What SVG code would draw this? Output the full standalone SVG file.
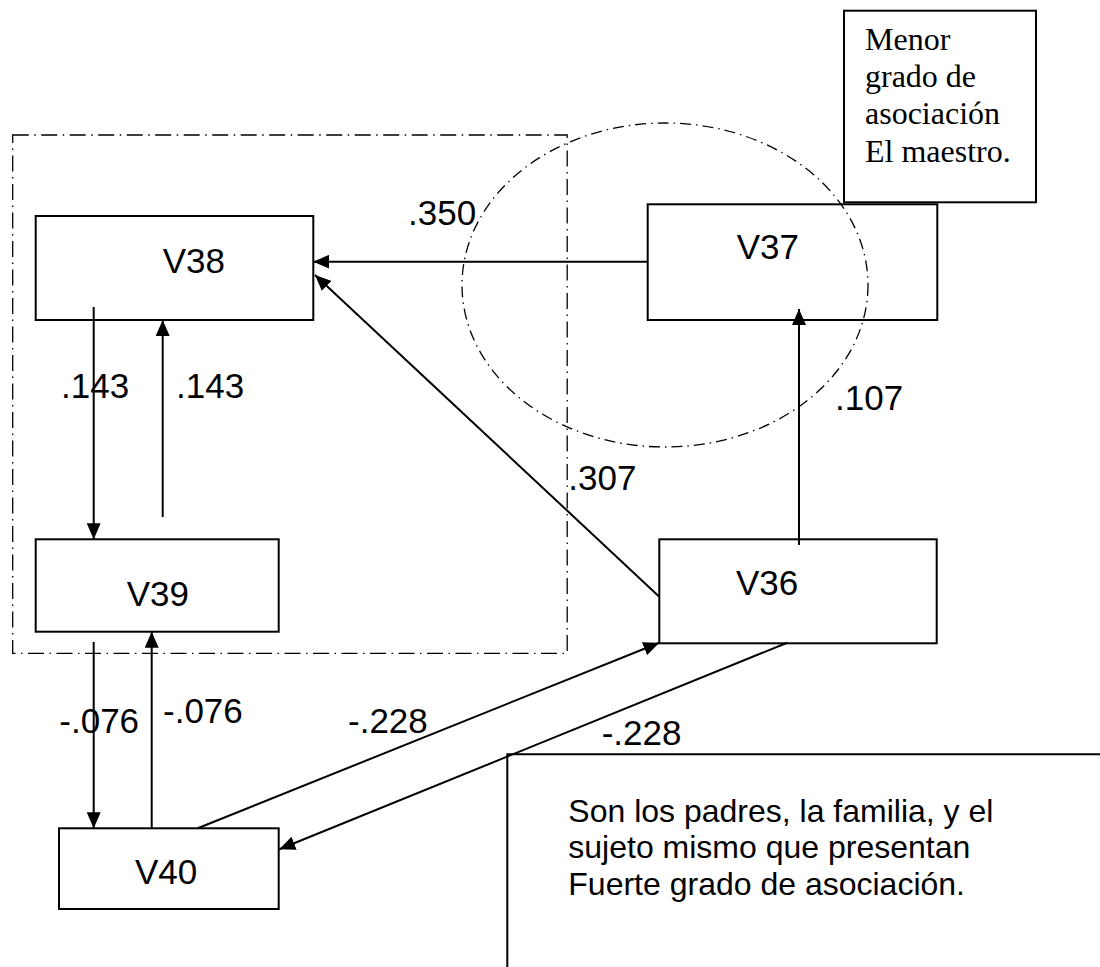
<svg xmlns="http://www.w3.org/2000/svg" width="1100" height="967" viewBox="0 0 1100 967">
<style>
.box{fill:none;stroke:#000;stroke-width:2}
.lbl{font-family:"Liberation Sans",Arial,sans-serif;font-size:35px;fill:#000}
.num{font-family:"Liberation Sans",Arial,sans-serif;font-size:35px;fill:#000}
.note{font-family:"Liberation Serif","Times New Roman",serif;font-size:32px;fill:#000}
.note2{font-family:"Liberation Sans",Arial,sans-serif;font-size:32px;fill:#000}
.dd{fill:none;stroke:#000;stroke-width:1.3;stroke-dasharray:16 5.5 1.5 5.5}
.dd2{fill:none;stroke:#000;stroke-width:1.3;stroke-dasharray:11 5 1.5 5}
.arr{fill:none;stroke:#000;stroke-width:2;marker-end:url(#ah)}
.ln{fill:none;stroke:#000;stroke-width:2}
</style>
<defs>
<marker id="ah" markerUnits="userSpaceOnUse" markerWidth="16" markerHeight="14" refX="16" refY="7" orient="auto" viewBox="0 0 16 14">
<path d="M0,0 L16,7 L0,14 Z" fill="#000"/>
</marker>
</defs>
<rect width="1100" height="967" fill="#fff"/>
<g id="groups">
<rect class="dd" x="12.7" y="135" width="554.5" height="518.3"/>
<ellipse class="dd2" cx="665" cy="285" rx="203" ry="162"/>
</g>
<g id="V38"><rect class="box" x="35.7" y="216" width="277.6" height="104"/><text class="lbl" x="162.7" y="272.7">V38</text></g>
<g id="V39"><rect class="box" x="35.7" y="539.3" width="243" height="92.4"/><text class="lbl" x="126.7" y="606">V39</text></g>
<g id="V40"><rect class="box" x="59" y="828.3" width="219.7" height="80.7"/><text class="lbl" x="135" y="884">V40</text></g>
<g id="V37"><rect class="box" x="647.7" y="204.3" width="289.6" height="115.7"/><text class="lbl" x="736.7" y="259.3">V37</text></g>
<g id="V36"><rect class="box" x="659.3" y="539.3" width="277.4" height="104"/><text class="lbl" x="736" y="595">V36</text></g>
<g id="note-maestro"><rect class="box" x="844" y="10.7" width="192" height="191.6"/>
<text class="note" x="865" y="50">Menor</text>
<text class="note" x="865" y="87.3">grado de</text>
<text class="note" x="865" y="124">asociación</text>
<text class="note" x="865" y="161.7">El maestro.</text>
</g>
<g id="note-familia"><path class="ln" d="M1100,754.3 L507.3,754.3 L507.3,967"/>
<text class="note2" x="568.3" y="821.7">Son los padres, la familia, y el</text>
<text class="note2" x="568.3" y="858.3">sujeto mismo que presentan</text>
<text class="note2" x="568.3" y="895">Fuerte grado de asociación.</text>
</g>
<g id="connectors">
<line class="arr" x1="648" y1="261.7" x2="313.3" y2="261.7"/>
<line class="arr" x1="659.3" y1="596.7" x2="315" y2="275"/>
<line class="arr" x1="93.7" y1="307" x2="93.7" y2="539.3"/>
<line class="arr" x1="162.7" y1="517" x2="162.7" y2="320"/>
<line class="arr" x1="93.7" y1="642" x2="93.7" y2="828.3"/>
<line class="arr" x1="151.7" y1="828.3" x2="151.7" y2="631.7"/>
<line class="arr" x1="197.7" y1="828.3" x2="659.3" y2="642.7"/>
<line class="arr" x1="787.3" y1="642.7" x2="279.3" y2="849.3"/>
<line class="arr" x1="799" y1="545" x2="799" y2="309"/>
</g>
<g id="labels">
<text class="num" x="408" y="225">.350</text>
<text class="num" x="61" y="398">.143</text>
<text class="num" x="176" y="398">.143</text>
<text class="num" x="835" y="410">.107</text>
<text class="num" x="568.3" y="490">.307</text>
<text class="num" x="59.3" y="733">-.076</text>
<text class="num" x="163" y="722.7">-.076</text>
<text class="num" x="348" y="733">-.228</text>
<text class="num" x="601.7" y="745">-.228</text>
</g>
</svg>
